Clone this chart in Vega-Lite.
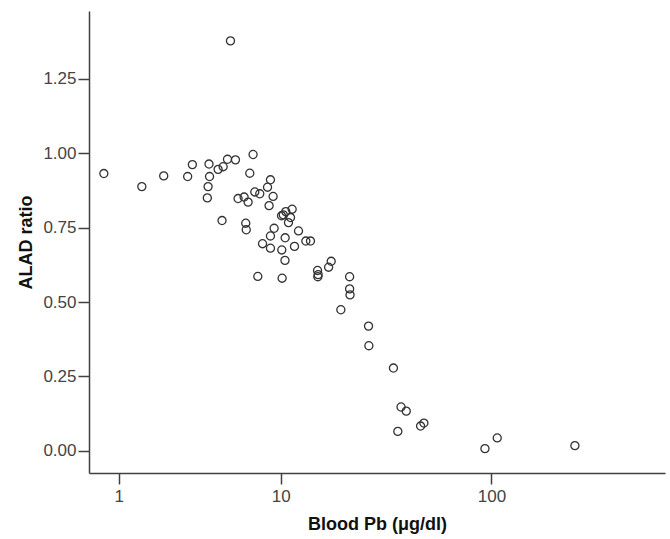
{
  "$schema": "https://vega.github.io/schema/vega-lite/v6.json",
  "width": 576,
  "height": 462,
  "autosize": {"type": "none"},
  "padding": {"left": 89, "top": 11, "right": 5, "bottom": 66},
  "background": "white",
  "config": {
    "view": {"stroke": null},
    "font": "Liberation Sans",
    "axis": {
      "grid": false,
      "domainColor": "#404040",
      "domainWidth": 1.5,
      "tickColor": "#404040",
      "tickWidth": 1.5,
      "tickSize": 11,
      "labelFont": "Liberation Sans",
      "labelFontSize": 17,
      "labelColor": "#444444",
      "titleFont": "Liberation Sans",
      "titleFontSize": 18,
      "titleFontWeight": "bold",
      "titleColor": "#111111"
    }
  },
  "data": {
    "values": [
      {"pb": 0.71, "ratio": 0.932},
      {"pb": 1.55, "ratio": 0.888},
      {"pb": 2.21, "ratio": 0.924},
      {"pb": 3.13, "ratio": 0.922},
      {"pb": 3.34, "ratio": 0.962},
      {"pb": 4.17, "ratio": 0.964},
      {"pb": 4.2, "ratio": 0.922},
      {"pb": 4.12, "ratio": 0.888},
      {"pb": 4.08, "ratio": 0.85},
      {"pb": 4.93, "ratio": 0.774},
      {"pb": 4.69, "ratio": 0.946},
      {"pb": 5.0, "ratio": 0.955},
      {"pb": 5.28, "ratio": 0.98},
      {"pb": 5.83, "ratio": 0.978},
      {"pb": 5.48, "ratio": 1.378},
      {"pb": 7.22, "ratio": 0.996},
      {"pb": 6.94, "ratio": 0.933},
      {"pb": 6.02, "ratio": 0.848},
      {"pb": 6.48, "ratio": 0.853},
      {"pb": 6.8, "ratio": 0.836},
      {"pb": 7.37, "ratio": 0.87},
      {"pb": 7.82, "ratio": 0.864},
      {"pb": 8.57, "ratio": 0.886},
      {"pb": 8.87, "ratio": 0.911},
      {"pb": 9.15, "ratio": 0.855},
      {"pb": 8.73, "ratio": 0.824},
      {"pb": 6.61, "ratio": 0.765},
      {"pb": 6.65, "ratio": 0.743},
      {"pb": 10.09, "ratio": 0.79},
      {"pb": 10.3, "ratio": 0.793},
      {"pb": 10.6, "ratio": 0.804},
      {"pb": 11.4, "ratio": 0.812},
      {"pb": 11.19, "ratio": 0.784},
      {"pb": 10.93, "ratio": 0.767},
      {"pb": 9.26, "ratio": 0.748},
      {"pb": 8.87, "ratio": 0.722},
      {"pb": 8.08, "ratio": 0.696},
      {"pb": 8.87, "ratio": 0.681},
      {"pb": 10.12, "ratio": 0.675},
      {"pb": 10.52, "ratio": 0.716},
      {"pb": 10.5, "ratio": 0.64},
      {"pb": 11.71, "ratio": 0.687},
      {"pb": 12.26, "ratio": 0.739},
      {"pb": 13.32, "ratio": 0.705},
      {"pb": 14.04, "ratio": 0.705},
      {"pb": 7.64, "ratio": 0.586},
      {"pb": 10.16, "ratio": 0.58},
      {"pb": 15.2, "ratio": 0.606},
      {"pb": 15.3, "ratio": 0.592},
      {"pb": 15.25, "ratio": 0.585},
      {"pb": 17.2, "ratio": 0.617},
      {"pb": 17.7, "ratio": 0.637},
      {"pb": 21.7, "ratio": 0.585},
      {"pb": 21.7, "ratio": 0.544},
      {"pb": 21.8, "ratio": 0.524},
      {"pb": 19.7, "ratio": 0.474},
      {"pb": 26.7, "ratio": 0.419},
      {"pb": 26.8, "ratio": 0.353},
      {"pb": 35.0, "ratio": 0.278},
      {"pb": 38.0, "ratio": 0.147},
      {"pb": 40.2, "ratio": 0.133},
      {"pb": 36.7, "ratio": 0.065},
      {"pb": 46.9, "ratio": 0.083},
      {"pb": 48.6, "ratio": 0.093},
      {"pb": 93.3, "ratio": 0.007},
      {"pb": 106.3, "ratio": 0.043},
      {"pb": 242, "ratio": 0.017}
    ]
  },
  "mark": {"type": "point", "shape": "circle", "filled": false, "stroke": "#333333", "strokeWidth": 1.3, "size": 65, "opacity": 1},
  "encoding": {
    "x": {
      "field": "pb",
      "type": "quantitative",
      "title": "Blood Pb (μg/dl)",
      "scale": {"type": "symlog", "constant": 1, "domain": [0.4625, 626], "nice": false, "zero": false},
      "axis": {"values": [1, 10, 100], "format": "d", "labelPadding": 4, "titleX": 288, "titleY": 51, "titleBaseline": "middle", "titleAnchor": "middle", "titleAlign": "center"}
    },
    "y": {
      "field": "ratio",
      "type": "quantitative",
      "title": "ALAD ratio",
      "scale": {"domain": [-0.0749, 1.4785], "nice": false, "zero": false},
      "axis": {"values": [0, 0.25, 0.5, 0.75, 1.0, 1.25], "format": ".2f", "labelPadding": 2, "titleX": -63, "titleY": 231, "titleAngle": -90, "titleAlign": "center", "titleBaseline": "middle", "titleAnchor": "middle"}
    }
  }
}
